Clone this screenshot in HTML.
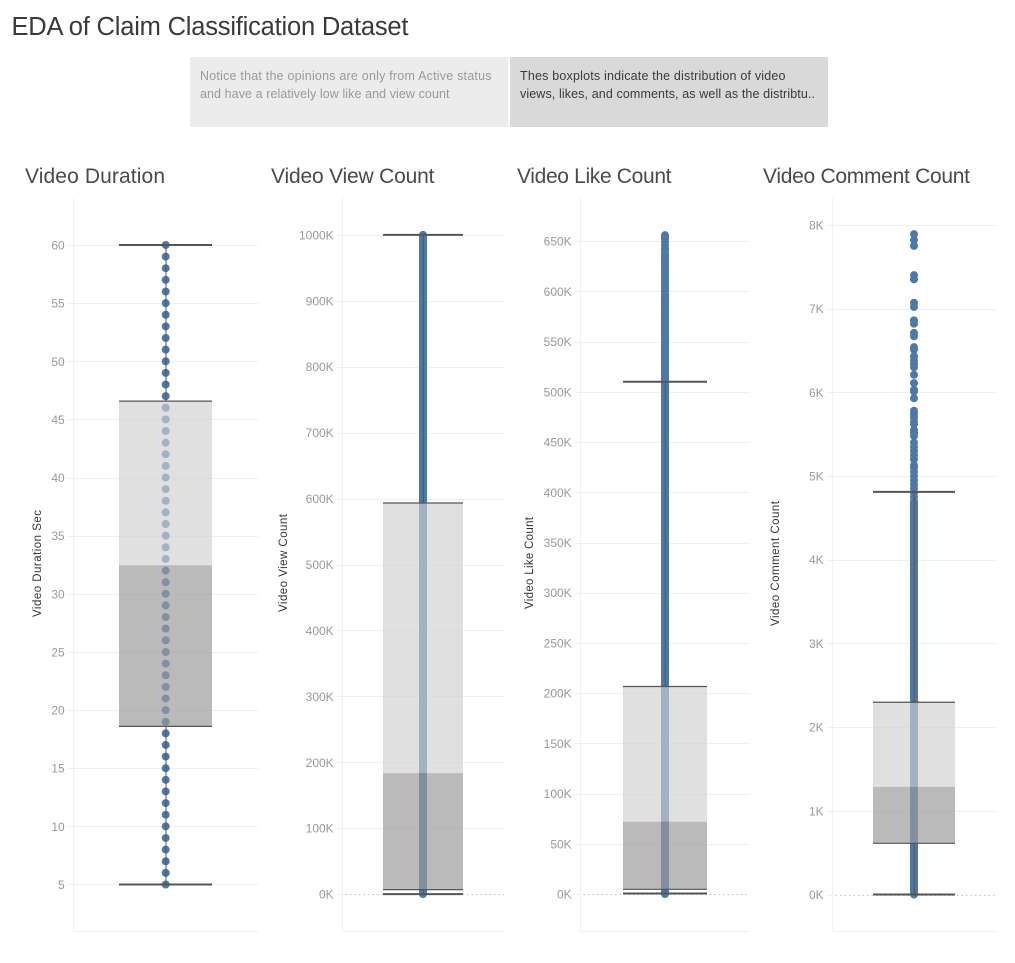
<!DOCTYPE html>
<html lang="en">
<head>
<meta charset="utf-8">
<title>EDA of Claim Classification Dataset</title>
<style>
html,body{margin:0;padding:0;background:#fff;}
svg{display:block;font-family:"Liberation Sans",sans-serif;}
</style>
</head>
<body>
<svg id="dash" xmlns="http://www.w3.org/2000/svg" width="1015" height="963" viewBox="0 0 1015 963">
  <rect x="0" y="0" width="1015" height="963" fill="#fff"/>
  <text x="11.5" y="35" font-size="25.5" fill="#3a3a3a" textLength="397" lengthAdjust="spacing">EDA of Claim Classification Dataset</text>

  <g>
    <rect x="190" y="57" width="318.5" height="70" fill="#ececec"/>
    <text x="200" y="80" font-size="12.5" fill="#9a9a9a" textLength="291.5" lengthAdjust="spacing">Notice that the opinions are only from Active status</text>
    <text x="200" y="98" font-size="12.5" fill="#9a9a9a" textLength="249.5" lengthAdjust="spacing">and have a relatively low like and view count</text>
  </g>
  <g>
    <rect x="510" y="57" width="318" height="70" fill="#d9d9d9"/>
    <text x="520" y="80" font-size="12.5" fill="#3a3a3a" textLength="265.5" lengthAdjust="spacing">Thes boxplots indicate the distribution of video</text>
    <text x="520" y="98" font-size="12.5" fill="#3a3a3a" textLength="295" lengthAdjust="spacing">views, likes, and comments, as well as the distribtu..</text>
  </g>

  <text x="25" y="183" font-size="21" fill="#4a4a4a" textLength="140" lengthAdjust="spacing">Video Duration</text>
  <text x="271" y="183" font-size="21" fill="#4a4a4a" textLength="163.5" lengthAdjust="spacing">Video View Count</text>
  <text x="517" y="183" font-size="21" fill="#4a4a4a" textLength="154.5" lengthAdjust="spacing">Video Like Count</text>
  <text x="763" y="183" font-size="21" fill="#4a4a4a" textLength="207" lengthAdjust="spacing">Video Comment Count</text>

  <text transform="translate(41,563.5) rotate(-90)" text-anchor="middle" font-size="11.5" fill="#333" textLength="107" lengthAdjust="spacing">Video Duration Sec</text>
  <text transform="translate(287,563) rotate(-90)" text-anchor="middle" font-size="11.5" fill="#333" textLength="98" lengthAdjust="spacing">Video View Count</text>
  <text transform="translate(533,563) rotate(-90)" text-anchor="middle" font-size="11.5" fill="#333" textLength="92" lengthAdjust="spacing">Video Like Count</text>
  <text transform="translate(779,563.5) rotate(-90)" text-anchor="middle" font-size="11.5" fill="#333" textLength="125" lengthAdjust="spacing">Video Comment Count</text>

  <g id="charts"></g>
</svg>

<script>
// ---- Video Duration (seconds)
const durationTicks = [5, 10, 15, 20, 25, 30, 35, 40, 45, 50, 55, 60];
const durationPoints = [5, 6, 7, 8, 9, 10, 11, 12, 13, 14, 15, 16, 17, 18, 19, 20, 21, 22, 23, 24, 25, 26, 27, 28, 29, 30, 31, 32, 33, 34, 35, 36, 37, 38, 39, 40, 41, 42, 43, 44, 45, 46, 47, 48, 49, 50, 51, 52, 53, 54, 55, 56, 57, 58, 59, 60];
const durationDenseRange = [];
const durationDomain = [1, 64.04];
const durationBox = [5, 18.6, 32.46, 46.57, 60];

// ---- Video View Count (thousands)
const viewTicks = [0, 100, 200, 300, 400, 500, 600, 700, 800, 900, 1000];
const viewPoints = [0, 1000];
const viewDenseRange = [0, 1000];
const viewDomain = [-56, 1056];
const viewBox = [0, 6.8, 183.6, 593.3, 1000];

// ---- Video Like Count (thousands)
const likeTicks = [0, 50, 100, 150, 200, 250, 300, 350, 400, 450, 500, 550, 600, 650];
const likePoints = [0, 597, 600, 602, 604, 606, 608, 610, 612, 614, 616, 618, 620, 622, 624, 626, 628, 630, 632, 634, 636, 638, 641, 643, 646, 649, 652, 654, 656];
const likeDenseRange = [0, 597];
const likeDomain = [-36.8, 693];
const likeBox = [0.5, 4.7, 72, 206.6, 510];

// ---- Video Comment Count (thousands)
const commentTicks = [0, 1, 2, 3, 4, 5, 6, 7, 8];
const commentPoints = [0, 4.7, 4.75, 4.8, 4.85, 4.9, 4.95, 5.0, 5.05, 5.1, 5.13, 5.2, 5.25, 5.3, 5.35, 5.4, 5.48, 5.52, 5.55, 5.62, 5.65, 5.7, 5.74, 5.78, 5.93, 6.01, 6.03, 6.11, 6.21, 6.3, 6.34, 6.38, 6.43, 6.51, 6.54, 6.67, 6.71, 6.82, 6.86, 7.02, 7.07, 7.35, 7.4, 7.75, 7.82, 7.89];
const commentDenseRange = [0, 4.7];
const commentDomain = [-0.436, 8.322];
const commentBox = [0, 0.612, 1.285, 2.297, 4.81];

const NS = 'http://www.w3.org/2000/svg';
const root = document.getElementById('charts');
const PLOT_TOP = 198;
const PLOT_BOTTOM = 931;
const BLUE = '#4e79a7';
const DARK = '#555';
const GRID = '#f0f0f0';

function mk(parent, tag, attrs) {
  const node = document.createElementNS(NS, tag);
  for (const key in attrs) node.setAttribute(key, attrs[key]);
  parent.appendChild(node);
  return node;
}

function yScale(domain) {
  return function (v) {
    return PLOT_BOTTOM - (v - domain[0]) / (domain[1] - domain[0]) * (PLOT_BOTTOM - PLOT_TOP);
  };
}

function drawPanel(id, o) {
  const y = yScale(o.domain);
  const g = mk(root, 'g', {});
  
  

  const yAxis = mk(g, 'line', { x1: o.axisX, x2: o.axisX, y1: PLOT_TOP, y2: PLOT_BOTTOM, stroke: GRID, 'stroke-width': 1 });
  
  

  const xAxis = mk(g, 'line', { x1: o.axisX, x2: o.right, y1: PLOT_BOTTOM + 0.5, y2: PLOT_BOTTOM + 0.5, stroke: GRID, 'stroke-width': 1 });
  
  

  o.ticks.forEach(function (t) {
    const ty = Math.round(y(t)) + 0.5;
    if (t === 0) {
      const stub = mk(g, 'line', { x1: o.axisX - 6, x2: o.axisX, y1: ty, y2: ty, stroke: GRID, 'stroke-width': 1 });
      
      
      const zero = mk(g, 'line', { x1: o.axisX + 3, x2: o.right, y1: ty, y2: ty, stroke: '#c4c4c4', 'stroke-width': 1, 'stroke-dasharray': '1.5 3' });
      
      
    } else {
      const grid = mk(g, 'line', { x1: o.axisX - 6, x2: o.right, y1: ty, y2: ty, stroke: GRID, 'stroke-width': 1 });
      
      
    }
    const label = mk(g, 'text', { x: o.axisX - 8.8, y: y(t) + 4.5, 'text-anchor': 'end', 'font-size': 12, fill: '#999' });
    label.textContent = t + o.suffix;
    
    
  });

  if (o.dense.length === 2) {
    const band = mk(g, 'line', { x1: o.cx, x2: o.cx, y1: y(o.dense[0]), y2: y(o.dense[1]), stroke: BLUE, 'stroke-width': 8 });
    
    
  }
  o.points.forEach(function (v) {
    const dot = mk(g, 'circle', { cx: o.cx, cy: y(v), r: 4, fill: BLUE });
    
    
  });

  const lo = o.box[0], q1 = o.box[1], med = o.box[2], q3 = o.box[3], hi = o.box[4];

  const upper = mk(g, 'rect', { x: o.boxL, width: o.boxR - o.boxL, y: y(q3), height: y(med) - y(q3), fill: 'rgb(208,208,208)', 'fill-opacity': 0.655 });
  
  

  const lower = mk(g, 'rect', { x: o.boxL, width: o.boxR - o.boxL, y: y(med), height: y(q1) - y(med), fill: 'rgb(154,154,154)', 'fill-opacity': 0.684 });
  
  

  const whiskerTop = mk(g, 'line', { x1: o.cx + 0.3, x2: o.cx + 0.3, y1: y(hi), y2: y(q3), stroke: DARK, 'stroke-width': 1 });
  
  

  const whiskerBottom = mk(g, 'line', { x1: o.cx + 0.3, x2: o.cx + 0.3, y1: y(q1), y2: y(lo), stroke: DARK, 'stroke-width': 1 });
  
  

  const edgeTop = mk(g, 'line', { x1: o.boxL, x2: o.boxR, y1: y(q3), y2: y(q3), stroke: DARK, 'stroke-width': 1.2 });
  
  

  const edgeBottom = mk(g, 'line', { x1: o.boxL, x2: o.boxR, y1: y(q1), y2: y(q1), stroke: DARK, 'stroke-width': 1.2 });
  
  

  const capTop = mk(g, 'line', { x1: o.boxL, x2: o.boxR, y1: y(hi), y2: y(hi), stroke: DARK, 'stroke-width': 2 });
  
  

  const capBottom = mk(g, 'line', { x1: o.boxL, x2: o.boxR, y1: y(lo), y2: y(lo), stroke: DARK, 'stroke-width': 2 });
  
  
}

drawPanel('duration', { domain: durationDomain, ticks: durationTicks, points: durationPoints, dense: durationDenseRange, box: durationBox, suffix: '', axisX: 73.5, right: 258, cx: 165.7, boxL: 119, boxR: 212 });
drawPanel('view-count', { domain: viewDomain, ticks: viewTicks, points: viewPoints, dense: viewDenseRange, box: viewBox, suffix: 'K', axisX: 342.5, right: 504, cx: 423, boxL: 383, boxR: 463 });
drawPanel('like-count', { domain: likeDomain, ticks: likeTicks, points: likePoints, dense: likeDenseRange, box: likeBox, suffix: 'K', axisX: 580.5, right: 750, cx: 665, boxL: 623, boxR: 707 });
drawPanel('comment-count', { domain: commentDomain, ticks: commentTicks, points: commentPoints, dense: commentDenseRange, box: commentBox, suffix: 'K', axisX: 832.5, right: 996, cx: 914, boxL: 873, boxR: 955 });
</script>
</body>
</html>
